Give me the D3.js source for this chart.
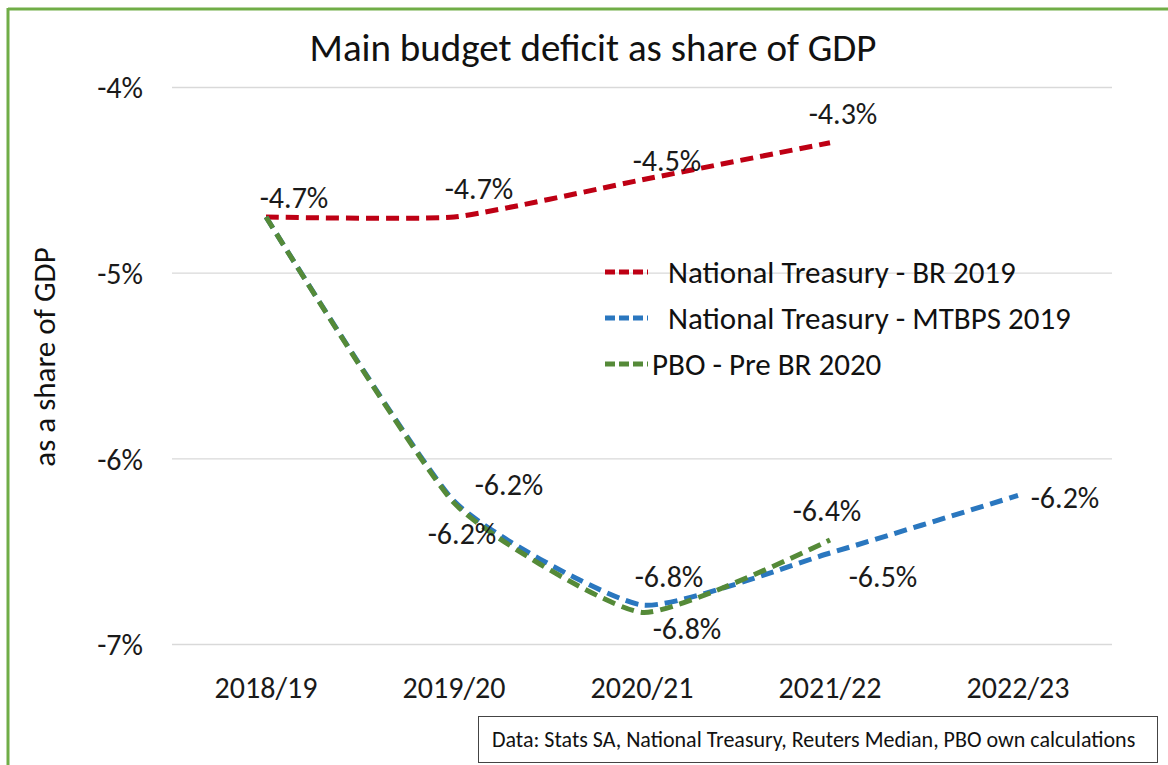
<!DOCTYPE html>
<html>
<head>
<meta charset="utf-8">
<script src="https://cdn.jsdelivr.net/npm/d3@7"></script>
<style>
  html, body { margin: 0; padding: 0; background: #fff; }
  svg { display: block; font-family: Carlito, Lato, "Open Sans", sans-serif; }
</style>
</head>
<body>
<svg id="chart" width="1168" height="765"></svg>
<script>
// Fiscal years on the x axis
const years = ["2018/19", "2019/20", "2020/21", "2021/22", "2022/23"];

// Main budget deficit as % of GDP, per projection
const seriesNames = ["National Treasury - BR 2019", "National Treasury - MTBPS 2019", "PBO - Pre BR 2020"];
const brValues    = [-4.7, -4.7, -4.5, -4.3, null];
const mtbpsValues = [-4.7, -6.23, -6.79, -6.51, -6.2];
const pboValues   = [-4.7, -6.24, -6.83, -6.44, null];

// Y axis ticks
const yTicks = [-4, -5, -6, -7];

const title = "Main budget deficit as share of GDP";
const yTitle = "as a share of GDP";
const sourceNote = "Data: Stats SA, National Treasury, Reuters Median, PBO own calculations";

// Presentation settings
const colors = ["#BE0014", "#2A77BF", "#558A38"];
// Label offset from each point; null = no label
const labelPlacement = [
  [[28, -20], [25, -29], [25, -20], [13, -30], null],
  [null, [55, -17], [27, -29], [53, 23], [47, 2]],
  [null, [8, 30], [45, 16], [-3, -30], null]
];

const pct = v => v.toFixed(1) + "%";
const svg = d3.select("#chart");
const W = 1168, H = 765;
const plot = { left: 172, right: 1112, top: 87, bottom: 644 };
const labelFont = 30;

// Frame lines along the left and top edges
svg.append("line").attr("x1", 8).attr("x2", 8).attr("y1", 8).attr("y2", H)
  .attr("stroke", "#70AD47").attr("stroke-width", 3);
svg.append("line").attr("x1", 8).attr("x2", W).attr("y1", 9).attr("y2", 9)
  .attr("stroke", "#70AD47").attr("stroke-width", 3);

const x = d3.scaleBand().domain(years).range([plot.left, plot.right]);
const y = d3.scaleLinear().domain([-7, -4]).range([plot.bottom, plot.top]);
const cx = d => x(d) + x.bandwidth() / 2;

// Gridlines and y tick labels
const yAxis = d3.axisLeft(y).tickValues(yTicks)
  .tickSize(-(plot.right - plot.left)).tickPadding(29)
  .tickFormat(d => d.toFixed(0) + "%");
const gy = svg.append("g").attr("transform", `translate(${plot.left},0)`).call(yAxis);
gy.select(".domain").remove();
gy.selectAll(".tick line").attr("stroke", "#D9D9D9").attr("stroke-width", 1.3);
gy.selectAll(".tick text").attr("fill", "#1a1a1a").attr("font-size", labelFont)
  .attr("font-family", "Carlito, Lato, sans-serif").attr("dy", "0.36em");

// X axis labels
const xAxis = d3.axisBottom(x).tickSize(0).tickPadding(33);
const gx = svg.append("g").attr("transform", `translate(0,${plot.bottom})`).call(xAxis);
gx.select(".domain").remove();
gx.selectAll(".tick text").attr("fill", "#1a1a1a").attr("font-size", labelFont)
  .attr("font-family", "Carlito, Lato, sans-serif");

// Title
svg.append("text").attr("x", 593).attr("y", 61).attr("text-anchor", "middle")
  .attr("font-size", 39).attr("fill", "#111").text(title);

// Y axis title
svg.append("text").attr("transform", "translate(55,357) rotate(-90)")
  .attr("text-anchor", "middle").attr("font-size", 31).attr("fill", "#111").text(yTitle);

// Lines: PBO drawn last so it covers the shared opening segment
const allSeries = [brValues, mtbpsValues, pboValues];
const line = d3.line()
  .x(d => cx(d.year)).y(d => y(d.v))
  .curve(d3.curveCardinal.tension(0.5));

allSeries.forEach((vals, i) => {
  const pts = years.map((yr, j) => ({ year: yr, v: vals[j] })).filter(d => d.v !== null);
  svg.append("path").datum(pts)
    .attr("d", line)
    .attr("fill", "none")
    .attr("stroke", colors[i])
    .attr("stroke-width", 5)
    .attr("stroke-dasharray", "13,7");
});

// Value labels
allSeries.forEach((vals, i) => {
  years.forEach((yr, j) => {
    const v = vals[j];
    const p = labelPlacement[i][j];
    if (v === null || !p) return;
    svg.append("text")
      .attr("x", cx(yr) + p[0]).attr("y", y(v) + p[1])
      .attr("dy", "0.36em").attr("text-anchor", "middle")
      .attr("font-size", labelFont).attr("fill", "#1a1a1a")
      .text(pct(v));
  });
});

// Legend
const legend = svg.append("g").attr("transform", "translate(605,272)");
const legendTextX = [63, 63, 47];
seriesNames.forEach((name, i) => {
  const g = legend.append("g").attr("transform", `translate(0,${i * 46})`);
  g.append("line").attr("x1", 0).attr("x2", 43).attr("y1", 0).attr("y2", 0)
    .attr("stroke", colors[i]).attr("stroke-width", 5).attr("stroke-dasharray", "10,4");
  g.append("text").attr("x", legendTextX[i]).attr("y", 0).attr("dy", "0.36em")
    .attr("font-size", 31).attr("fill", "#111").text(name);
});

// Source note box
svg.append("rect").attr("x", 478.5).attr("y", 716.5).attr("width", 679).attr("height", 46)
  .attr("fill", "#fff").attr("stroke", "#444").attr("stroke-width", 1);
svg.append("text").attr("x", 492).attr("y", 739).attr("dy", "0.36em")
  .attr("font-size", 22).attr("fill", "#111").text(sourceNote);
</script>
</body>
</html>
